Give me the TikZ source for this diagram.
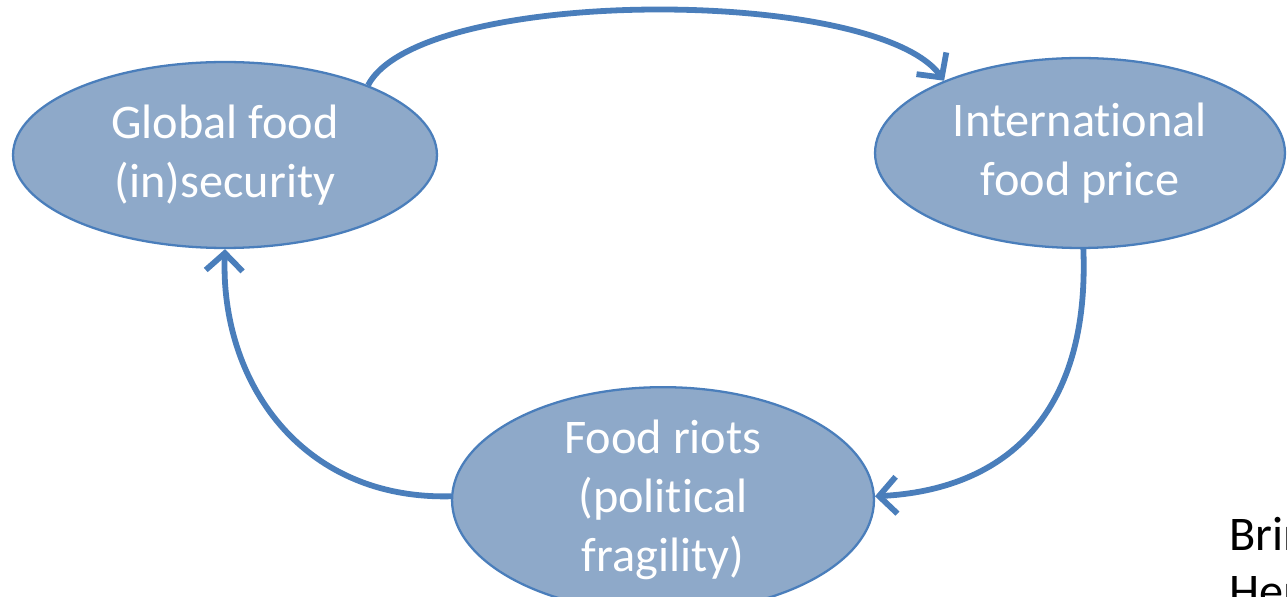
\documentclass[tikz,border=0pt]{standalone}
\usepackage{fontspec}
\setmainfont{Carlito}[Ligatures={NoCommon}]
\usetikzlibrary{shapes.geometric,arrows.meta}
\definecolor{ellfill}{HTML}{8EA9C9}
\definecolor{ellline}{HTML}{4A7EBB}
\definecolor{arrcol}{HTML}{4A7EBB}
\tikzset{
  bubble/.style={ellipse, draw=ellline, line width=1.3pt, fill=ellfill, text=white,
    align=center, inner sep=0pt, font=\fontsize{27.5}{33.5}\selectfont},
  cycarrow/.style={draw=arrcol, line width=3.3pt,
    -{Straight Barb[length=10pt,width=21pt,line width=3.3pt]}},
  sidenote/.style={anchor=base west, inner sep=0pt, text=black, font=\fontsize{27.5}{33.5}\selectfont}
}
\begin{document}
\begin{tikzpicture}[x=0.02cm,y=-0.02cm]
\useasboundingbox (0,0) rectangle (1287,597);
\clip (0,0) rectangle (1287,597);
\node[bubble, minimum width=8.48cm, minimum height=3.72cm] (g) at (225,155) {Global food\\(in)security};
\node[bubble, minimum width=8.2cm, minimum height=3.8cm] (p) at (1080,153) {International\\food price};
\node[bubble, minimum width=8.44cm, minimum height=3.84cm] (r) at (663,500) {Food riots\\(political\\fragility)};
\draw[cycarrow] (g.26) .. controls (420,-14) and (875,-14) .. (p.152);
\draw[cycarrow] (p.-88) .. controls (1090,420) and (1000,490) .. (r.1);
\draw[cycarrow] (r.179) .. controls (300,500) and (220,380) .. (g.-90);
\node[sidenote] (n1) at (1229,550) {Brinkman};
\node[sidenote] (n2) at (1229,607) {Hendrix};
\end{tikzpicture}
\end{document}
